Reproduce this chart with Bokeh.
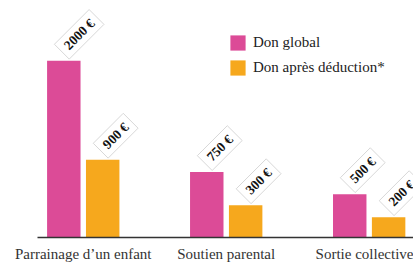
from bokeh.plotting import figure
from bokeh.models import ColumnDataSource, Range1d, FixedTicker, Legend, LegendItem
from bokeh.transform import dodge
from bokeh.embed import file_html
from bokeh.resources import INLINE

categories = ["Parrainage d\u2019un enfant", "Soutien parental", "Sortie collective"]
don_global = [2000, 740, 490]
don_apres = [880, 365, 230]
labels_global = ["2000 \u20ac", "750 \u20ac", "500 \u20ac"]
labels_apres = ["900 \u20ac", "300 \u20ac", "200 \u20ac"]
series_names = ["Don global", "Don apr\u00e8s d\u00e9duction*"]

PINK = "#dc4b97"
ORANGE = "#f6a81d"

idx = list(range(len(categories)))
src = ColumnDataSource(dict(x=idx, g=don_global, a=don_apres, lg=labels_global, la=labels_apres))

p = figure(width=413, height=264, output_backend="svg", toolbar_location=None,
           x_range=Range1d(-0.32, 2.31), y_range=Range1d(0, 2681),
           y_axis_location=None, min_border_left=37, min_border_right=0,
           min_border_top=0, min_border_bottom=27)
p.outline_line_color = None
p.xgrid.visible = False
p.ygrid.visible = False
p.background_fill_color = "white"
p.border_fill_color = "white"

off = 0.136
w = 0.234
r1 = p.vbar(x=dodge("x", -off, range=p.x_range), top="g", width=w, source=src,
            fill_color=PINK, line_color=None)
r2 = p.vbar(x=dodge("x", off, range=p.x_range), top="a", width=w, source=src,
            fill_color=ORANGE, line_color=None)

common = dict(source=src, angle=45, angle_units="deg", text_align="left",
              text_baseline="middle", text_font="DejaVu Serif", text_font_style="bold",
              text_font_size="13.5px", text_color="#111", y_offset=-9, x_offset=-2,
              background_fill_color="white", border_line_color="#d8d8d8",
              border_line_width=1, padding=(6, 3))
p.text(x=dodge("x", -off, range=p.x_range), y="g", text="lg", **common)
p.text(x=dodge("x", off, range=p.x_range), y="a", text="la", **common)

ax = p.xaxis[0]
ax.ticker = FixedTicker(ticks=idx)
ax.major_label_overrides = {i: c for i, c in zip(idx, categories)}
ax.major_tick_line_color = None
ax.minor_tick_line_color = None
ax.major_tick_out = 0
ax.major_tick_in = 0
ax.minor_tick_out = 0
ax.minor_tick_in = 0
ax.axis_line_color = "#333333"
ax.axis_line_width = 1.5
ax.major_label_text_font = "Liberation Serif"
ax.major_label_text_font_size = "15px"
ax.major_label_text_color = "#333333"
ax.major_label_standoff = 8

legend = Legend(items=[LegendItem(label=series_names[0], renderers=[r1]),
                       LegendItem(label=series_names[1], renderers=[r2])],
                location=(191, 160), orientation="vertical",
                glyph_width=19, glyph_height=19, label_standoff=6, spacing=6,
                padding=0, margin=0, border_line_color=None,
                background_fill_alpha=0,
                label_text_font="Liberation Serif", label_text_font_size="15px",
                label_text_color="#222222")
p.add_layout(legend)

open("out.html", "w").write(file_html(p, INLINE))
